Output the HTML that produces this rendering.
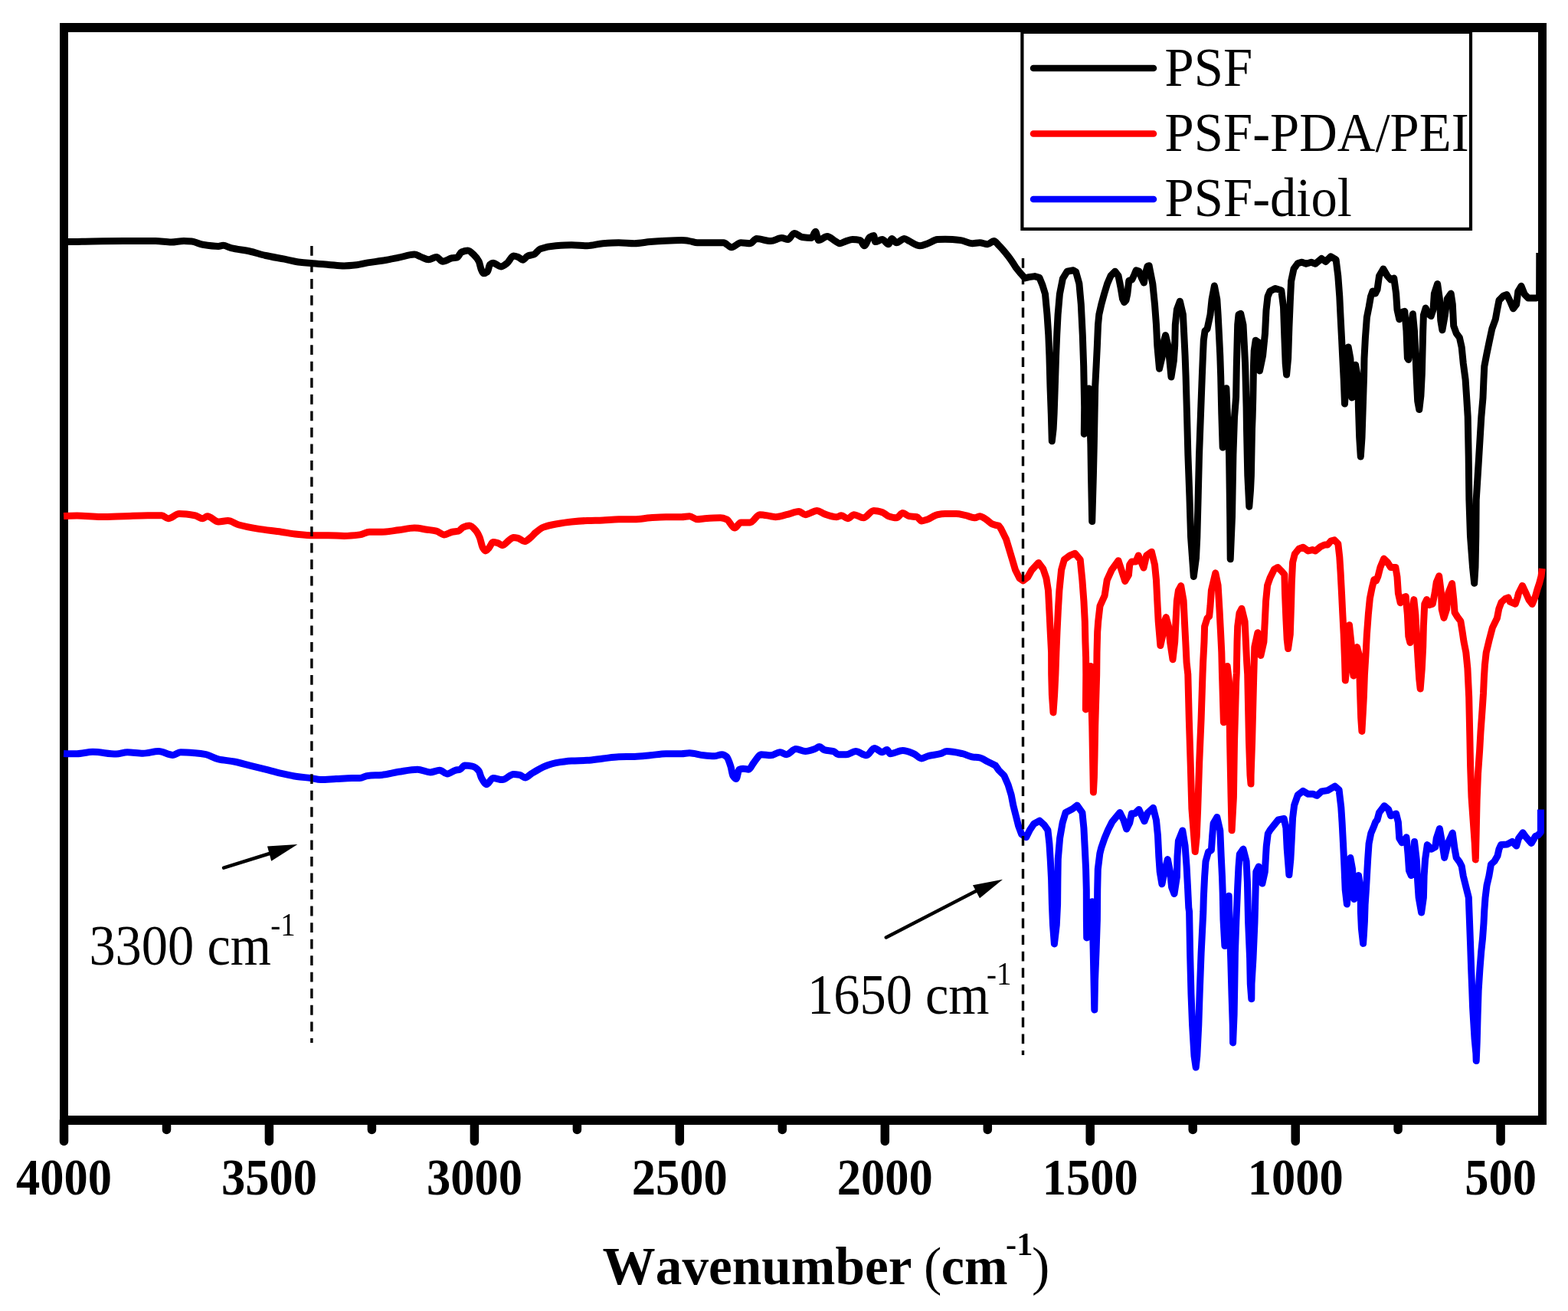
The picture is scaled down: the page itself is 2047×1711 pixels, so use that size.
<!DOCTYPE html><html><head><meta charset="utf-8"><title>FTIR spectra</title><style>html,body{margin:0;padding:0;background:#fff;overflow:hidden;}svg{display:block;}text{font-family:"Liberation Serif","Times New Roman",serif;font-kerning:none;fill:#000;}</style></head><body>
<svg width="2047" height="1711" viewBox="0 0 2047 1711">
<rect x="0" y="0" width="2047" height="1711" fill="#fff"/>
<g fill="#000">
<rect x="78" y="30" width="1941" height="12"/>
<rect x="78" y="1456" width="1941" height="12"/>
<rect x="78" y="30" width="11" height="1438"/>
<rect x="2008" y="30" width="11" height="1438"/>
</g>
<g stroke="#000" stroke-width="11.5" stroke-linecap="round">
<line x1="83.5" y1="1462" x2="83.5" y2="1489.5"/>
<line x1="217.5" y1="1462" x2="217.5" y2="1474.5"/>
<line x1="351.4" y1="1462" x2="351.4" y2="1489.5"/>
<line x1="485.4" y1="1462" x2="485.4" y2="1474.5"/>
<line x1="619.4" y1="1462" x2="619.4" y2="1489.5"/>
<line x1="753.4" y1="1462" x2="753.4" y2="1474.5"/>
<line x1="887.3" y1="1462" x2="887.3" y2="1489.5"/>
<line x1="1021.3" y1="1462" x2="1021.3" y2="1474.5"/>
<line x1="1155.3" y1="1462" x2="1155.3" y2="1489.5"/>
<line x1="1289.3" y1="1462" x2="1289.3" y2="1474.5"/>
<line x1="1423.2" y1="1462" x2="1423.2" y2="1489.5"/>
<line x1="1557.2" y1="1462" x2="1557.2" y2="1474.5"/>
<line x1="1691.2" y1="1462" x2="1691.2" y2="1489.5"/>
<line x1="1825.1" y1="1462" x2="1825.1" y2="1474.5"/>
<line x1="1959.1" y1="1462" x2="1959.1" y2="1489.5"/>
</g>
<text transform="translate(21.0,1559.0) scale(0.915,1)" font-size="68.3" font-weight="bold">4000</text>
<text transform="translate(289.0,1559.0) scale(0.915,1)" font-size="68.3" font-weight="bold">3500</text>
<text transform="translate(556.9,1559.0) scale(0.915,1)" font-size="68.3" font-weight="bold">3000</text>
<text transform="translate(824.8,1559.0) scale(0.915,1)" font-size="68.3" font-weight="bold">2500</text>
<text transform="translate(1092.8,1559.0) scale(0.915,1)" font-size="68.3" font-weight="bold">2000</text>
<text transform="translate(1360.7,1559.0) scale(0.915,1)" font-size="68.3" font-weight="bold">1500</text>
<text transform="translate(1628.7,1559.0) scale(0.915,1)" font-size="68.3" font-weight="bold">1000</text>
<text transform="translate(1912.2,1559.0) scale(0.915,1)" font-size="68.3" font-weight="bold">500</text>
<text transform="translate(786.6,1676.0) scale(0.995,1)" font-size="69.6" font-weight="bold">Wavenumber</text>
<text transform="translate(1206.0,1676.0) scale(1.000,1)" font-size="70.0" font-weight="normal">(</text>
<text transform="translate(1228.8,1676.0) scale(0.976,1)" font-size="69.6" font-weight="bold">cm</text>
<text transform="translate(1313.1,1638.0) scale(1.000,1)" font-size="42.3" font-weight="bold">-1</text>
<text transform="translate(1346.9,1676.0) scale(1.000,1)" font-size="70.0" font-weight="normal">)</text>
<path fill="none" stroke="#000000" stroke-width="9.0" stroke-linejoin="round" stroke-linecap="butt" d="M84.0,315.6C85.7,315.6 87.5,315.6 89.2,315.6C99.8,315.6 110.4,315.1 121.0,315.0C134.7,314.8 148.3,314.6 162.0,314.6C175.7,314.6 189.4,314.6 203.1,314.6C209.9,314.6 216.8,316.0 223.6,316.0C229.1,316.0 234.5,314.4 240.0,314.4C243.4,314.4 246.9,314.7 250.3,315.0C255.1,315.5 259.9,318.5 264.7,319.3C271.5,320.4 278.4,321.5 285.2,321.5C287.2,321.5 289.3,320.3 291.3,320.3C294.7,320.3 298.2,322.8 301.6,323.6C309.8,325.6 318.0,326.2 326.2,328.0C333.0,329.5 339.9,332.0 346.7,333.5C354.9,335.3 363.1,336.6 371.3,338.2C378.2,339.5 385.0,341.5 391.9,342.3C397.4,343.0 402.8,343.3 408.3,343.8C415.1,344.4 422.0,344.9 428.8,345.4C435.6,345.9 442.5,347.0 449.3,347.0C454.8,347.0 460.2,346.4 465.7,345.8C470.5,345.3 475.3,343.7 480.1,342.9C486.2,341.9 492.4,341.3 498.5,340.3C505.8,339.1 513.2,337.6 520.5,336.2C527.3,334.9 534.2,332.1 541.0,332.1C543.7,332.1 546.5,334.1 549.2,335.1C552.6,336.3 556.1,338.8 559.5,338.8C562.9,338.8 566.4,335.5 569.8,335.5C572.5,335.5 575.3,341.3 578.0,341.3C582.1,341.3 586.2,337.4 590.3,336.8C592.3,336.5 594.4,336.6 596.4,336.2C598.5,335.8 600.5,329.9 602.6,329.0C605.3,327.8 608.1,326.9 610.8,326.9C613.5,326.9 616.3,330.4 619.0,333.1C621.1,335.1 623.1,337.1 625.2,341.3C626.2,343.3 627.2,349.4 628.2,351.6C629.2,353.9 630.3,356.7 631.3,356.7C633.0,356.7 634.7,355.9 636.4,354.6C637.4,353.8 638.5,346.3 639.5,345.4C640.9,344.2 642.2,343.3 643.6,343.3C647.0,343.3 650.5,347.9 653.9,347.9C656.6,347.9 659.4,345.3 662.1,343.3C664.8,341.3 667.6,334.1 670.3,334.1C672.3,334.1 674.4,334.8 676.4,335.5C678.5,336.2 680.5,339.2 682.6,339.2C684.7,339.2 686.7,334.9 688.8,334.1C691.5,333.0 694.3,333.1 697.0,332.1C699.7,331.1 702.5,325.9 705.2,324.9C712.0,322.5 718.9,321.3 725.7,320.8C732.5,320.3 739.4,319.8 746.2,319.8C753.0,319.8 759.9,320.8 766.7,320.8C773.5,320.8 780.4,318.2 787.2,317.7C794.0,317.2 800.9,316.7 807.7,316.7C814.6,316.7 821.4,317.7 828.3,317.7C835.1,317.7 842.0,316.2 848.8,315.6C855.6,315.0 862.5,314.5 869.3,314.2C876.1,313.9 883.0,313.6 889.8,313.6C893.2,313.6 896.7,314.1 900.1,314.6C903.5,315.0 906.9,316.7 910.3,316.7C913.5,316.7 916.8,316.7 920.0,316.7C928.2,316.7 936.4,316.7 944.6,316.7C948.0,316.7 951.5,322.8 954.9,322.8C959.0,322.8 963.1,316.7 967.2,316.7C971.3,316.7 975.4,317.7 979.5,317.7C982.2,317.7 985.0,311.5 987.7,311.5C993.9,311.5 1000.0,314.6 1006.2,314.6C1011.0,314.6 1015.7,310.5 1020.5,310.5C1023.2,310.5 1026.0,312.6 1028.7,312.6C1031.4,312.6 1034.2,304.4 1036.9,304.4C1040.3,304.4 1043.8,309.0 1047.2,309.5C1051.3,310.1 1055.4,310.5 1059.5,310.5C1061.2,310.5 1062.9,302.3 1064.6,302.3C1066.0,302.3 1067.3,313.6 1068.7,313.6C1072.5,313.6 1076.2,308.5 1080.0,308.5C1083.4,308.5 1086.9,312.7 1090.3,314.6C1092.3,315.7 1094.4,317.7 1096.4,317.7C1099.2,317.7 1101.9,315.4 1104.7,314.6C1107.4,313.8 1110.2,312.6 1112.9,312.6C1116.3,312.6 1119.7,312.9 1123.1,313.6C1124.8,314.0 1126.6,320.8 1128.3,320.8C1130.7,320.8 1133.0,311.0 1135.4,309.5C1137.1,308.4 1138.9,307.4 1140.6,307.4C1141.3,307.4 1141.9,315.6 1142.6,315.6C1145.7,315.6 1148.7,312.6 1151.8,312.6C1154.5,312.6 1157.3,318.7 1160.0,318.7C1161.4,318.7 1162.7,311.5 1164.1,311.5C1166.2,311.5 1168.2,316.7 1170.3,316.7C1173.7,316.7 1177.2,311.5 1180.6,311.5C1182.6,311.5 1184.7,313.6 1186.7,314.6C1191.5,316.9 1196.3,320.8 1201.1,320.8C1204.5,320.8 1207.9,318.9 1211.3,317.7C1215.4,316.3 1219.6,312.9 1223.7,312.6C1227.1,312.4 1230.5,312.2 1233.9,312.2C1240.7,312.2 1247.6,312.8 1254.4,313.6C1259.2,314.1 1264.0,317.7 1268.8,317.7C1272.2,317.7 1275.7,316.7 1279.1,316.7C1282.5,316.7 1285.9,318.7 1289.3,318.7C1292.0,318.7 1294.8,314.6 1297.5,314.6C1299.6,314.6 1301.6,318.0 1303.7,320.0C1307.9,324.1 1312.1,329.1 1316.3,334.6C1319.6,338.9 1322.9,343.9 1326.2,349.2L1331.3,355.5L1338.0,363.0L1343.4,361.6L1350.8,360.6L1356.9,362.3L1360.9,372.0L1364.5,383.8L1367.0,410.6L1368.8,437.5L1369.9,464.4L1371.0,504.7L1372.3,540.0L1373.3,575.8L1375.1,560.0L1376.1,540.0L1377.3,504.7L1378.6,464.4L1379.7,437.5L1381.1,410.6L1383.4,383.8L1387.4,363.6L1393.2,354.2L1401.2,352.8L1404.6,354.9L1408.9,370.3L1411.3,397.2L1413.3,437.5L1414.7,477.8L1415.7,531.6L1415.3,566.4L1418.0,540.0L1421.5,507.0L1423.9,580.0L1424.5,620.0L1425.7,680.6L1427.4,620.0L1428.3,580.0L1429.7,504.7L1431.1,477.8L1432.4,451.0L1433.5,424.0L1434.8,410.6L1437.8,397.2L1441.5,383.8L1445.6,370.3L1450.0,360.0L1455.7,354.2L1460.0,360.0L1463.0,375.0L1465.5,390.0L1467.7,394.5L1470.0,392.0L1471.8,383.8L1473.8,366.3L1477.8,365.0L1481.0,358.0L1483.2,352.8L1487.0,354.0L1490.0,362.0L1493.4,369.0L1495.3,356.9L1498.0,347.5L1500.1,346.7L1504.8,370.3L1507.5,397.2L1509.5,424.0L1510.8,451.0L1513.5,481.2L1517.5,464.4L1519.6,444.2L1521.6,437.5L1524.9,451.0L1527.0,471.1L1529.0,492.0L1532.3,471.1L1533.7,451.0L1534.3,424.0L1536.4,403.9L1540.4,393.2L1544.4,410.6L1545.8,437.5L1547.1,464.4L1548.1,491.3L1549.5,540.0L1550.9,593.8L1552.9,647.5L1554.6,701.3L1558.3,752.5L1561.5,728.1L1562.8,701.3L1564.2,647.5L1565.5,593.8L1567.5,540.0L1569.3,491.3L1570.4,464.4L1571.3,444.2L1573.0,432.0L1576.0,429.4L1580.0,410.6L1582.1,390.5L1585.4,373.0L1588.8,390.5L1590.1,410.6L1591.5,437.5L1592.8,464.4L1593.7,491.3L1594.8,540.0L1596.2,583.9L1598.5,545.0L1600.9,506.7L1602.5,545.0L1604.6,593.8L1605.7,674.4L1606.2,729.7L1608.5,674.4L1609.9,593.8L1611.5,545.0L1613.6,518.1L1614.3,477.8L1615.0,451.0L1615.7,424.0L1617.0,410.6L1619.7,409.3L1623.0,424.0L1624.4,451.0L1625.7,477.8L1626.4,504.7L1627.1,531.6L1627.5,560.0L1628.8,620.6L1630.8,661.2L1632.5,640.0L1633.4,620.6L1634.5,560.0L1635.1,545.0L1635.8,518.1L1636.5,477.8L1637.2,457.7L1639.2,444.2L1643.2,447.0L1644.5,483.9L1648.6,464.0L1651.5,435.0L1653.0,405.0L1655.0,387.0L1658.0,380.0L1664.8,376.4L1672.8,379.1L1675.5,400.6L1676.9,441.0L1678.2,474.5L1679.6,489.0L1681.6,467.8L1682.9,427.5L1684.3,393.9L1685.6,367.0L1689.0,350.9L1694.3,343.5L1699.7,342.2L1705.1,344.2L1711.8,342.2L1717.2,344.2L1725.3,337.5L1730.6,341.5L1737.4,334.8L1744.1,338.8L1746.8,360.3L1748.8,387.2L1750.1,414.1L1751.5,441.0L1752.8,467.8L1754.2,494.7L1755.5,527.0L1757.5,494.7L1758.9,461.1L1760.2,453.0L1762.9,467.8L1764.2,494.7L1764.9,519.0L1766.9,494.7L1769.6,476.2L1773.0,494.7L1773.4,530.6L1774.7,571.0L1776.3,596.0L1778.0,571.0L1779.3,530.6L1780.6,490.3L1781.0,467.8L1782.4,441.0L1784.4,414.1L1787.1,400.6L1789.5,387.0L1792.0,380.0L1795.5,383.0L1798.0,378.0L1800.5,360.3L1805.9,350.9L1811.3,360.3L1815.6,364.9L1819.8,363.0L1822.6,383.1L1824.0,404.2L1826.8,416.8L1831.0,407.0L1833.8,406.3L1836.0,432.2L1837.4,467.3L1838.8,469.4L1841.6,446.2L1843.0,418.2L1844.4,409.8L1846.5,432.2L1847.9,460.3L1849.3,495.3L1850.7,523.4L1852.8,534.6L1854.9,516.4L1856.3,488.3L1857.0,460.3L1857.7,432.2L1858.4,411.2L1861.2,402.1L1864.7,409.8L1868.2,412.6L1871.0,404.2L1872.4,383.1L1876.6,370.5L1879.4,390.1L1880.8,418.2L1882.9,430.8L1886.4,411.2L1889.3,390.1L1894.2,383.1L1896.3,397.2L1897.7,425.2L1901.2,435.0L1905.4,440.6L1908.2,453.3L1910.3,474.3L1913.1,495.3L1914.5,516.4L1916.2,544.0L1917.2,596.1L1917.9,652.2L1919.5,700.0L1922.5,740.0L1924.7,761.2L1926.0,740.0L1926.8,700.0L1927.2,652.2L1930.7,596.1L1933.8,544.4L1936.0,519.1L1937.0,494.6L1937.8,478.2L1940.9,461.8L1944.3,445.5L1947.8,429.1L1952.3,416.8L1954.5,404.5L1957.0,392.0L1962.9,385.9L1967.1,384.5L1971.3,392.9L1975.5,402.8L1979.7,397.2L1981.8,380.3L1986.0,373.3L1990.4,384.3L1995.1,389.0L2000.9,389.0L2005.6,389.0L2009.6,388.0L2009.8,330.0"/>
<path fill="none" stroke="#ff0000" stroke-width="9.0" stroke-linejoin="round" stroke-linecap="butt" d="M83.1,673.5C88.9,673.2 94.7,673.0 100.5,673.0C110.8,673.0 121.0,674.5 131.3,674.5C141.6,674.5 151.8,674.0 162.1,673.7C172.3,673.4 182.6,672.7 192.8,672.7C199.0,672.7 205.1,672.7 211.3,672.7C214.0,672.7 216.8,676.8 219.5,676.8C224.3,676.8 229.1,670.6 233.9,670.6C240.7,670.6 247.6,671.5 254.4,672.7C257.8,673.3 261.3,676.8 264.7,676.8C266.7,676.8 268.8,673.7 270.8,673.7C275.6,673.7 280.4,680.9 285.2,680.9C289.3,680.9 293.4,679.5 297.5,679.5C302.3,679.5 307.0,683.7 311.8,685.0C320.0,687.3 328.3,688.8 336.5,690.1C346.7,691.8 357.0,692.7 367.2,694.2C374.0,695.2 380.9,696.6 387.7,697.3C394.6,698.0 401.4,698.8 408.3,698.8C415.1,698.8 422.0,698.8 428.8,698.8C435.6,698.8 442.5,699.4 449.3,699.4C456.1,699.4 463.0,698.7 469.8,697.9C473.9,697.4 478.0,694.2 482.1,694.2C487.6,694.2 493.0,694.2 498.5,694.2C505.8,694.2 513.2,692.7 520.5,691.8C527.3,691.0 534.2,689.1 541.0,689.1C546.5,689.1 551.9,690.4 557.4,691.2C561.5,691.8 565.7,692.2 569.8,693.2C573.2,694.0 576.6,697.9 580.0,697.9C583.4,697.9 586.9,694.8 590.3,694.2C593.0,693.7 595.8,693.8 598.5,693.2C600.5,692.8 602.6,688.9 604.6,688.1C607.3,687.0 610.1,686.0 612.8,686.0C615.5,686.0 618.3,689.2 621.0,692.2C622.7,694.1 624.5,697.4 626.2,701.4C627.6,704.6 628.9,712.5 630.3,714.8C631.5,716.8 632.6,718.9 633.8,718.9C635.4,718.9 636.9,716.5 638.5,714.8C640.2,713.0 641.9,707.6 643.6,707.6C645.7,707.6 647.7,708.1 649.8,708.6C651.8,709.1 653.9,711.7 655.9,711.7C658.6,711.7 661.4,707.4 664.1,705.5C666.2,704.0 668.2,701.4 670.3,701.4C672.3,701.4 674.4,701.9 676.4,702.4C679.2,703.1 681.9,706.6 684.7,706.6C687.4,706.6 690.2,703.5 692.9,701.4C694.9,699.8 697.0,697.0 699.0,695.3C702.4,692.4 705.9,689.4 709.3,688.1C714.8,686.0 720.2,685.0 725.7,684.0C732.5,682.7 739.4,681.5 746.2,680.9C753.0,680.3 759.9,679.8 766.7,679.5C773.5,679.2 780.4,679.2 787.2,678.9C794.0,678.6 800.9,677.8 807.7,677.8C814.6,677.8 821.4,677.8 828.3,677.8C835.1,677.8 842.0,676.3 848.8,675.8C855.6,675.3 862.5,674.7 869.3,674.7C876.1,674.7 883.0,674.7 889.8,674.7C893.2,674.7 896.7,673.7 900.1,673.7C903.5,673.7 906.9,677.8 910.3,677.8C913.5,677.8 916.8,677.0 920.0,676.8C926.8,676.3 933.7,675.8 940.5,675.8C943.2,675.8 946.0,676.7 948.7,677.8C952.1,679.1 955.6,689.1 959.0,689.1C961.7,689.1 964.5,681.9 967.2,681.9C971.3,681.9 975.4,681.9 979.5,681.9C983.6,681.9 987.7,671.7 991.8,671.7C996.6,671.7 1001.4,673.0 1006.2,673.7C1008.2,674.0 1010.3,674.7 1012.3,674.7C1017.1,674.7 1021.9,672.8 1026.7,671.7C1032.2,670.5 1037.6,667.6 1043.1,667.6C1045.8,667.6 1048.6,671.7 1051.3,671.7C1056.4,671.7 1061.6,666.5 1066.7,666.5C1069.8,666.5 1072.8,669.6 1075.9,670.6C1081.4,672.4 1086.8,674.7 1092.3,674.7C1094.4,674.7 1096.4,672.7 1098.5,672.7C1101.2,672.7 1104.0,676.8 1106.7,676.8C1109.4,676.8 1112.2,671.7 1114.9,671.7C1119.0,671.7 1123.1,675.8 1127.2,675.8C1131.7,675.8 1136.1,666.5 1140.6,666.5C1144.3,666.5 1148.1,667.5 1151.8,668.6C1154.5,669.4 1157.3,672.8 1160.0,673.7C1163.4,674.8 1166.9,675.8 1170.3,675.8C1173.0,675.8 1175.8,669.6 1178.5,669.6C1181.2,669.6 1184.0,673.2 1186.7,673.7C1190.1,674.3 1193.6,674.1 1197.0,674.7C1199.0,675.1 1201.1,679.9 1203.1,679.9C1205.8,679.9 1208.6,678.7 1211.3,677.8C1215.4,676.4 1219.6,672.4 1223.7,671.7C1227.1,671.1 1230.5,670.6 1233.9,670.6C1238.7,670.6 1243.5,670.6 1248.3,670.6C1252.4,670.6 1256.5,671.9 1260.6,672.7C1264.7,673.5 1268.8,675.8 1272.9,675.8C1274.9,675.8 1277.0,673.7 1279.0,673.7C1281.8,673.7 1284.5,676.1 1287.3,677.8C1290.0,679.4 1292.8,683.0 1295.5,684.0C1298.2,685.0 1301.0,686.0 1303.7,686.0L1306.7,690.0L1313.4,703.4L1317.5,716.9L1321.5,730.3L1325.5,743.8L1330.9,754.5L1335.6,757.9L1341.7,753.2L1347.0,743.8L1355.8,734.4L1361.8,742.4L1365.9,754.5L1368.5,770.6L1369.9,797.5L1371.2,824.4L1372.6,851.3L1372.7,880.0L1373.4,906.9L1375.0,929.9L1376.6,906.9L1377.9,880.0L1378.9,851.3L1380.0,824.4L1381.3,797.5L1382.9,770.6L1385.6,743.8L1389.4,730.3L1396.8,724.9L1403.5,722.3L1410.2,730.3L1412.9,757.2L1414.9,784.1L1416.3,811.0L1416.9,837.8L1417.6,858.0L1417.8,880.0L1417.4,925.9L1420.0,895.0L1423.7,869.4L1425.8,947.2L1426.5,987.5L1427.4,1034.1L1428.4,1014.4L1429.0,987.5L1429.7,947.2L1431.7,880.0L1432.0,851.3L1432.7,824.4L1433.7,811.0L1436.0,790.8L1442.1,777.4L1445.2,757.2L1451.2,743.8L1460.0,731.7L1464.0,743.8L1468.7,758.5L1473.4,750.5L1474.7,737.0L1477.4,733.0L1482.8,733.0L1486.2,725.0L1493.0,741.1L1496.7,724.9L1503.4,720.2L1507.5,737.0L1509.5,757.2L1510.8,784.1L1512.2,811.0L1514.9,842.5L1518.9,824.4L1520.2,811.0L1522.3,805.6L1525.6,817.7L1527.6,837.8L1531.0,860.7L1533.7,837.8L1535.0,811.0L1536.4,784.1L1538.4,770.6L1541.7,764.6L1545.1,784.1L1546.4,811.0L1547.8,837.8L1549.1,864.7L1550.8,880.0L1552.3,938.5L1554.2,996.9L1555.9,1055.4L1560.2,1111.6L1562.2,1092.0L1563.7,1055.4L1565.6,996.9L1568.1,938.5L1570.0,880.0L1570.6,864.7L1572.0,837.8L1572.6,817.7L1576.0,806.9L1578.7,804.2L1580.0,790.8L1581.4,770.6L1586.8,747.8L1590.1,763.9L1592.1,797.5L1593.5,824.4L1594.8,851.3L1595.5,880.0L1597.4,942.7L1599.5,900.0L1602.2,869.4L1604.6,890.0L1605.6,967.7L1607.1,1040.8L1608.1,1083.8L1610.4,1040.8L1611.5,967.7L1613.7,890.0L1614.3,878.2L1615.0,837.8L1615.7,817.7L1618.0,800.0L1621.0,794.2L1625.1,811.0L1626.4,837.8L1627.7,864.7L1628.7,880.0L1630.5,967.7L1632.0,1011.6L1633.0,1023.1L1633.1,1011.6L1634.6,967.7L1636.8,880.0L1637.8,844.5L1641.9,825.7L1645.9,855.4L1649.9,837.8L1651.3,811.0L1652.6,784.1L1654.6,763.9L1658.1,753.9L1663.4,743.2L1668.1,740.5L1673.5,745.9L1676.9,749.9L1677.5,774.1L1678.9,807.7L1680.2,834.6L1681.6,846.6L1684.3,827.8L1685.6,787.5L1686.3,760.6L1687.6,733.8L1690.3,723.0L1695.7,716.3L1701.1,714.3L1707.8,719.0L1713.2,717.6L1717.2,719.0L1723.9,713.6L1729.3,710.9L1733.3,710.9L1737.4,706.2L1742.1,704.9L1746.8,709.6L1748.8,727.0L1750.1,747.2L1751.5,774.1L1752.8,801.0L1754.2,827.8L1755.5,861.4L1756.3,888.0L1758.9,861.4L1759.5,827.8L1761.5,815.7L1764.2,841.3L1764.9,868.1L1767.0,882.0L1768.9,854.7L1771.6,844.6L1774.3,854.7L1775.3,895.0L1776.7,937.0L1777.9,954.4L1779.3,930.0L1780.4,909.0L1781.4,881.0L1783.0,854.7L1784.4,827.8L1786.4,801.0L1788.4,780.8L1791.1,767.4L1793.8,756.6L1796.5,758.0L1799.0,752.0L1801.9,740.5L1806.6,729.1L1811.3,733.8L1815.6,740.5L1821.9,740.5L1824.0,753.1L1825.4,774.2L1828.2,786.8L1832.4,779.8L1835.2,778.4L1837.4,802.2L1838.8,830.3L1840.9,838.7L1843.7,816.2L1845.1,788.2L1845.8,782.6L1847.9,802.2L1849.3,830.3L1851.4,865.3L1852.8,886.4L1854.2,899.0L1856.3,872.4L1857.7,844.3L1858.4,816.2L1859.8,788.2L1862.6,782.6L1866.1,789.6L1870.3,788.2L1873.1,774.2L1875.2,760.1L1878.7,751.7L1881.5,774.2L1882.2,795.2L1885.0,806.4L1888.6,795.2L1890.7,774.2L1895.6,761.5L1897.7,781.2L1899.1,799.4L1902.6,805.0L1906.8,810.6L1908.9,823.3L1911.0,837.3L1913.8,851.3L1915.9,872.4L1917.7,910.0L1918.8,960.0L1919.6,1000.0L1921.0,1040.0L1923.1,1070.0L1925.2,1100.0L1926.3,1122.0L1927.1,1090.0L1928.1,1045.0L1929.5,1010.0L1931.6,980.0L1933.0,955.0L1935.1,926.0L1936.5,905.0L1937.4,884.6L1938.4,868.2L1940.2,851.8L1944.1,835.5L1948.4,819.1L1954.4,806.8L1956.8,794.5L1960.0,786.0L1965.0,781.5L1969.0,780.0L1971.3,785.4L1978.3,788.2L1981.1,779.8L1982.5,774.2L1987.5,764.4L1992.7,775.5L1996.0,783.0L2000.3,788.4L2004.4,778.4L2006.8,769.7L2009.7,760.9L2012.0,752.1L2013.3,742.0"/>
<path fill="none" stroke="#0000ff" stroke-width="9.0" stroke-linejoin="round" stroke-linecap="butt" d="M83.1,983.4C88.9,983.7 94.7,983.7 100.5,983.7C107.3,983.7 114.2,981.3 121.0,981.3C131.3,981.3 141.5,984.1 151.8,984.1C156.6,984.1 161.4,981.7 166.2,981.7C173.0,981.7 179.9,983.3 186.7,983.3C193.5,983.3 200.4,980.6 207.2,980.6C213.4,980.6 219.5,985.4 225.7,985.4C229.1,985.4 232.5,981.7 235.9,981.7C242.1,981.7 248.2,982.2 254.4,982.7C259.2,983.1 264.0,983.7 268.8,984.7C274.3,985.8 279.7,989.7 285.2,990.9C292.0,992.4 298.9,992.7 305.7,994.0C312.5,995.3 319.4,997.4 326.2,999.1C333.0,1000.8 339.9,1002.5 346.7,1004.2C353.5,1005.9 360.4,1007.9 367.2,1009.4C374.0,1010.9 380.9,1012.5 387.7,1013.5C393.9,1014.4 400.0,1014.7 406.2,1015.5C410.3,1016.1 414.4,1017.6 418.5,1017.6C425.3,1017.6 432.2,1016.9 439.0,1016.6C445.9,1016.2 452.7,1015.5 459.6,1015.5C463.0,1015.5 466.4,1015.5 469.8,1015.5C473.2,1015.5 476.7,1012.7 480.1,1012.4C486.2,1011.8 492.4,1011.9 498.5,1011.4C505.8,1010.8 513.2,1008.4 520.5,1007.3C528.7,1006.1 536.9,1004.2 545.1,1004.2C550.6,1004.2 556.1,1007.9 561.6,1007.9C565.7,1007.9 569.8,1005.3 573.9,1005.3C577.3,1005.3 580.7,1010.0 584.1,1010.0C587.5,1010.0 591.0,1006.2 594.4,1005.3C596.4,1004.8 598.5,1004.8 600.5,1004.2C602.6,1003.6 604.6,999.1 606.7,999.1C610.1,999.1 613.5,999.5 616.9,1000.1C619.7,1000.6 622.4,1002.7 625.2,1006.3C626.2,1007.6 627.2,1012.7 628.2,1014.5C630.6,1018.9 633.0,1023.7 635.4,1023.7C638.1,1023.7 640.9,1015.5 643.6,1015.5C647.7,1015.5 651.8,1017.6 655.9,1017.6C660.7,1017.6 665.5,1010.4 670.3,1010.4C673.0,1010.4 675.8,1010.9 678.5,1011.4C680.9,1011.9 683.3,1014.9 685.7,1014.9C688.1,1014.9 690.5,1011.9 692.9,1010.4C696.3,1008.3 699.7,1006.0 703.1,1004.2C707.2,1002.0 711.3,999.9 715.4,998.5C718.8,997.3 722.3,996.2 725.7,995.6C732.5,994.4 739.4,993.4 746.2,993.0C753.0,992.6 759.9,992.7 766.7,992.3C773.5,991.9 780.4,990.6 787.2,989.9C794.0,989.2 800.9,988.0 807.7,987.8C814.6,987.6 821.4,987.6 828.3,987.4C835.1,987.2 842.0,986.4 848.8,985.8C855.6,985.2 862.5,983.7 869.3,983.7C876.1,983.7 883.0,983.7 889.8,983.7C893.2,983.7 896.7,982.7 900.1,982.7C906.2,982.7 912.4,985.2 918.5,985.8C923.1,986.3 927.7,986.8 932.3,986.8C935.7,986.8 939.2,984.7 942.6,984.7C944.6,984.7 946.7,986.1 948.7,987.8C950.4,989.3 952.2,994.8 953.9,1000.1C954.9,1003.2 955.9,1010.7 956.9,1012.4C958.3,1014.7 959.6,1016.6 961.0,1016.6C962.4,1016.6 963.7,1004.7 965.1,1004.2C966.8,1003.6 968.6,1003.2 970.3,1003.2C972.7,1003.2 975.0,1004.2 977.4,1004.2C979.5,1004.2 981.5,998.5 983.6,996.0C987.0,991.9 990.5,984.7 993.9,984.7C998.0,984.7 1002.1,985.8 1006.2,985.8C1010.3,985.8 1014.4,981.7 1018.5,981.7C1021.2,981.7 1024.0,984.7 1026.7,984.7C1030.8,984.7 1034.9,977.6 1039.0,977.6C1043.1,977.6 1047.2,980.6 1051.3,980.6C1055.4,980.6 1059.5,979.0 1063.6,977.6C1065.7,976.9 1067.7,974.5 1069.8,974.5C1071.8,974.5 1073.9,978.0 1075.9,978.6C1080.0,979.8 1084.1,979.5 1088.2,980.6C1090.3,981.2 1092.3,984.7 1094.4,984.7C1097.8,984.7 1101.3,984.7 1104.7,984.7C1108.8,984.7 1112.9,980.6 1117.0,980.6C1121.8,980.6 1126.5,985.8 1131.3,985.8C1134.7,985.8 1138.2,976.5 1141.6,976.5C1145.0,976.5 1148.4,981.7 1151.8,981.7C1153.9,981.7 1155.9,978.6 1158.0,978.6C1159.4,978.6 1160.7,983.7 1162.1,983.7C1167.6,983.7 1173.0,979.6 1178.5,979.6C1183.3,979.6 1188.1,981.8 1192.9,983.7C1196.3,985.0 1199.7,989.9 1203.1,989.9C1205.8,989.9 1208.6,987.5 1211.3,986.8C1216.8,985.4 1222.2,985.1 1227.7,983.7C1230.5,983.0 1233.2,980.6 1236.0,980.6C1242.8,980.6 1249.7,982.2 1256.5,983.7C1260.6,984.6 1264.7,987.1 1268.8,987.8C1272.2,988.3 1275.6,988.3 1279.0,988.9C1282.4,989.5 1285.9,992.3 1289.3,994.0C1292.7,995.7 1296.2,997.4 1299.6,999.1L1304.0,1005.4L1310.8,1012.1L1316.1,1024.2L1320.2,1037.6L1322.8,1051.1L1326.2,1064.5L1329.6,1078.0L1333.6,1088.7L1339.7,1092.7L1344.4,1083.3L1349.7,1075.3L1357.1,1071.2L1363.2,1076.6L1367.9,1083.3L1369.9,1100.8L1371.2,1121.0L1372.6,1147.8L1373.4,1180.0L1374.5,1206.9L1376.4,1231.9L1379.3,1206.9L1380.6,1180.0L1380.9,1147.8L1381.3,1121.0L1383.6,1094.1L1387.1,1073.9L1391.1,1060.5L1400.1,1055.8L1406.2,1051.1L1412.9,1060.5L1414.9,1080.6L1416.3,1107.5L1417.6,1134.4L1418.3,1161.3L1418.4,1200.0L1418.7,1223.9L1422.0,1200.0L1425.7,1176.7L1427.2,1240.0L1428.0,1280.0L1428.8,1318.0L1429.5,1280.0L1431.1,1240.0L1432.4,1200.0L1432.7,1161.3L1433.3,1134.4L1435.8,1114.2L1437.8,1106.2L1442.0,1094.1L1446.5,1083.3L1451.9,1072.6L1462.0,1060.5L1466.7,1069.9L1470.7,1082.0L1474.7,1073.9L1477.4,1061.8L1481.5,1061.8L1486.8,1056.5L1494.0,1071.8L1498.1,1061.1L1505.5,1054.3L1509.5,1070.5L1511.5,1090.6L1512.8,1117.5L1514.2,1137.7L1516.9,1153.8L1520.2,1137.7L1524.3,1121.5L1527.6,1137.7L1529.6,1157.8L1533.0,1166.6L1536.4,1144.4L1537.0,1117.5L1538.4,1097.4L1543.8,1083.9L1547.1,1104.1L1549.1,1131.0L1550.5,1157.8L1551.8,1184.7L1552.6,1190.0L1553.6,1243.8L1555.0,1297.5L1556.6,1337.8L1559.0,1378.1L1561.2,1393.1L1562.8,1378.1L1564.8,1337.8L1566.1,1297.5L1568.1,1243.8L1570.8,1190.0L1571.3,1171.3L1572.6,1144.4L1574.0,1124.2L1577.4,1112.1L1581.4,1109.4L1582.7,1090.6L1584.1,1074.5L1588.8,1066.4L1592.8,1083.9L1594.2,1117.5L1595.5,1144.4L1596.2,1164.5L1597.0,1200.0L1598.9,1234.6L1601.5,1200.0L1604.2,1169.3L1605.0,1200.0L1606.7,1250.5L1608.0,1297.5L1609.3,1337.8L1609.6,1360.9L1611.1,1324.4L1611.8,1284.1L1612.4,1243.8L1613.8,1203.4L1615.7,1157.8L1617.0,1131.0L1618.3,1114.8L1623.0,1108.1L1627.1,1124.2L1628.4,1151.1L1629.6,1203.4L1631.6,1250.5L1632.3,1284.1L1633.8,1303.8L1634.0,1284.1L1636.0,1250.5L1638.0,1203.4L1638.5,1184.7L1639.2,1157.8L1639.8,1137.7L1643.2,1131.0L1647.2,1144.4L1647.9,1153.1L1651.3,1137.7L1653.3,1104.1L1655.3,1088.0L1658.1,1083.3L1663.4,1076.6L1668.8,1069.9L1676.2,1068.5L1678.9,1080.6L1680.2,1107.5L1682.9,1141.8L1684.9,1121.0L1686.3,1094.1L1687.6,1067.2L1689.6,1051.1L1694.3,1037.6L1701.1,1032.3L1707.8,1036.3L1714.5,1036.3L1719.2,1038.3L1725.3,1032.9L1733.3,1031.6L1742.7,1026.2L1748.1,1030.9L1750.8,1053.8L1752.1,1073.9L1753.5,1100.8L1754.8,1127.7L1756.2,1161.3L1758.4,1180.0L1760.2,1161.3L1762.9,1119.6L1765.6,1134.4L1766.9,1161.3L1767.8,1173.5L1770.3,1154.5L1773.6,1142.5L1776.3,1161.3L1776.4,1190.0L1777.4,1212.0L1779.6,1231.4L1780.4,1220.0L1781.4,1203.0L1782.1,1181.0L1783.5,1160.0L1785.7,1121.0L1787.1,1100.8L1789.8,1087.4L1793.8,1077.9L1795.8,1072.6L1798.0,1070.0L1800.5,1060.5L1807.2,1051.7L1812.6,1056.4L1815.6,1064.7L1822.6,1061.9L1825.4,1073.1L1826.8,1094.2L1830.3,1099.8L1836.0,1092.8L1838.1,1115.2L1839.5,1136.2L1842.3,1142.6L1845.1,1122.2L1846.5,1098.4L1849.3,1122.2L1850.7,1150.3L1852.1,1171.3L1855.6,1191.0L1858.4,1171.3L1859.1,1143.3L1860.5,1122.2L1863.3,1102.6L1868.9,1108.2L1873.8,1105.4L1875.2,1094.2L1879.4,1081.5L1882.9,1101.2L1885.7,1119.4L1890.0,1101.2L1896.3,1087.1L1899.1,1108.2L1901.2,1119.4L1905.4,1125.0L1908.2,1130.6L1910.3,1143.3L1913.8,1157.3L1917.3,1171.3L1918.6,1206.0L1919.5,1230.0L1920.7,1265.0L1921.7,1290.0L1922.6,1315.0L1923.8,1335.0L1925.0,1355.0L1926.9,1375.0L1927.2,1384.5L1928.2,1360.0L1929.1,1325.0L1930.1,1293.0L1931.9,1265.0L1933.7,1242.0L1935.5,1225.0L1937.0,1204.6L1937.8,1188.2L1939.0,1171.8L1941.0,1155.5L1943.9,1143.2L1946.5,1128.0L1951.0,1124.0L1955.0,1117.0L1957.0,1108.0L1959.5,1102.5L1967.5,1102.0L1974.1,1098.4L1979.7,1104.0L1982.5,1094.2L1988.1,1086.8L1992.4,1092.8L1999.2,1100.5L2004.4,1091.4L2008.0,1090.0L2011.4,1086.0L2011.4,1056.5"/>
<g stroke="#000" stroke-width="3.4" stroke-dasharray="12.8 8.74" fill="none">
<line x1="406.9" y1="321" x2="406.9" y2="1361"/>
<line x1="1335.5" y1="337" x2="1335.5" y2="1377"/>
</g>
<g stroke="#000" stroke-width="4.5" stroke-linecap="round">
<line x1="292" y1="1132.6" x2="355" y2="1113"/>
<line x1="1156.8" y1="1223.4" x2="1276" y2="1162"/>
</g>
<g fill="#000">
<polygon points="388.4,1101.9 349,1104.5 354.2,1123.8"/>
<polygon points="1309,1147.7 1270,1155.2 1279,1172.3"/>
</g>
<text transform="translate(116.4,1258.5) scale(0.930,1)" font-size="73.6" font-weight="normal">3300 cm</text>
<text transform="translate(353.2,1221.2) scale(0.917,1)" font-size="42.4" font-weight="normal">-1</text>
<text transform="translate(1054.0,1322.8) scale(0.930,1)" font-size="73.6" font-weight="normal">1650 cm</text>
<text transform="translate(1288.0,1285.4) scale(0.917,1)" font-size="42.4" font-weight="normal">-1</text>
<rect x="1334.4" y="41.9" width="585.6" height="257" fill="#fff" stroke="#000" stroke-width="4.2"/>
<g stroke-width="8.5" stroke-linecap="round">
<line x1="1349" y1="89" x2="1506" y2="89" stroke="#000"/>
<line x1="1349" y1="174.5" x2="1506" y2="174.5" stroke="#ff0000"/>
<line x1="1349" y1="260" x2="1506" y2="260" stroke="#0000ff"/>
</g>
<text transform="translate(1520.6,111.6) scale(0.946,1)" font-size="72.6" font-weight="normal">PSF</text>
<text transform="translate(1520.6,196.7) scale(0.946,1)" font-size="72.6" font-weight="normal">PSF-PDA/PEI</text>
<text transform="translate(1520.6,281.8) scale(0.946,1)" font-size="72.6" font-weight="normal">PSF-diol</text>
</svg></body></html>
